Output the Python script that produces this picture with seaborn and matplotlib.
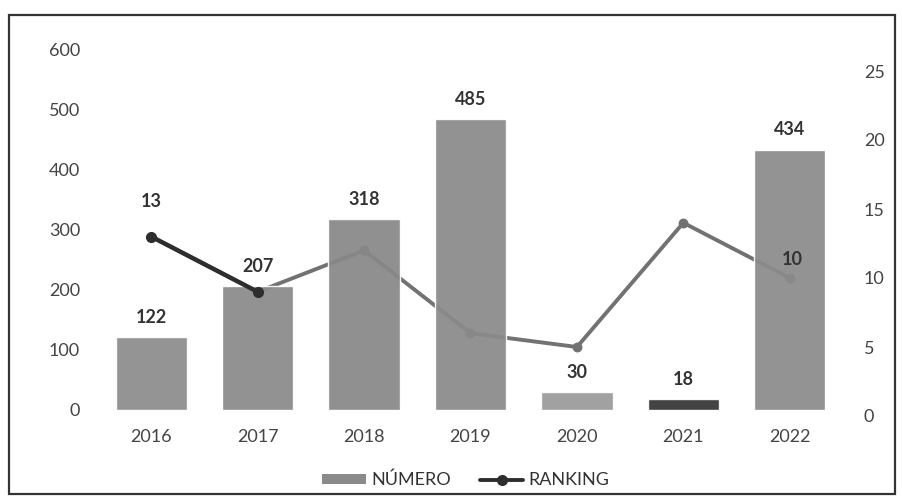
import numpy as np
import matplotlib.pyplot as plt
import seaborn as sns
from matplotlib.patches import Rectangle, Patch
from matplotlib.lines import Line2D

# chart values
years = ["2016", "2017", "2018", "2019", "2020", "2021", "2022"]
numero = [122, 207, 318, 485, 30, 18, 434]
ranking = [13, 9, 12, 6, 5, 14, 10]
ranking_labels_shown = {"2016": "13", "2022": "10"}

bar_colors = ["#8c8c8c", "#8a8a8a", "#888888", "#8a8a8a", "#9a9a9a", "#353535", "#8b8b8b"]
line_color = "#727272"
dark_line = "#2e2e2e"
text_color = "#333333"
tick_color = "#444444"

sns.set_style("white")
plt.rcParams["font.family"] = ["Lato", "DejaVu Sans"]

W, H = 902, 499
fig = plt.figure(figsize=(W / 100, H / 100), dpi=100)

# right axis (ranking) sits behind the bars, as in the scan
ax2 = fig.add_axes([98 / W, (H - 416) / H, 745 / W, 345 / H])
ax = fig.add_axes([98 / W, (H - 410) / H, 745 / W, 360 / H])
ax.set_zorder(2)
ax.patch.set_visible(False)
ax2.set_zorder(1)

sns.barplot(x=years, y=numero, hue=years, palette=bar_colors, legend=False,
            width=0.67, saturation=1, alpha=0.93, ax=ax)
ax.set_ylim(0, 600)
ax.set_xlim(-0.5, 6.5)
ax.set_yticks(range(0, 601, 100))
ax.tick_params(axis="x", labelsize=13, colors=tick_color, length=0, pad=14)
ax.tick_params(axis="y", labelsize=13, colors=tick_color, length=0, pad=13)
for s in ax.spines.values():
    s.set_visible(False)
ax.set_xlabel("")
ax.set_ylabel("")

for i, v in enumerate(numero):
    ax.annotate(str(v), (i, v), xytext=(0, 8), textcoords="offset points",
                ha="center", va="bottom", fontsize=13, fontweight="bold",
                color=text_color)

sns.pointplot(x=years, y=ranking, color=line_color, markers="o",
              markersize=5, linewidth=2.8, ax=ax2)
ax2.set_xlim(-0.5, 6.5)
ax2.set_ylim(0, 25)
ax2.set_yticks(range(0, 26, 5))
ax2.yaxis.tick_right()
ax2.set_xticks([])
ax2.tick_params(axis="y", labelsize=13, colors=tick_color, length=0, pad=15)
for s in ax2.spines.values():
    s.set_visible(False)
ax2.set_xlabel("")
ax2.set_ylabel("")

# the first segment prints darker and on top of the 2017 bar in the scan
ax.plot(np.arange(2), ranking[:2], transform=ax2.transData, color=dark_line,
        linewidth=3.2, marker="o", markersize=7, zorder=5)

for i, y in enumerate(years):
    if y in ranking_labels_shown:
        off = (0, 25) if y == "2016" else (2, 13)
        ax.annotate(ranking_labels_shown[y], (i, ranking[i]),
                    xycoords=ax2.transData, xytext=off,
                    textcoords="offset points", ha="center", va="center",
                    fontsize=13, fontweight="bold", color=text_color,
                    zorder=6)

handles = [Patch(facecolor="#8a8a8a", edgecolor="none"),
           Line2D([0], [0], color=dark_line, linewidth=2.8, marker="o",
                  markersize=7)]
fig.legend(handles, ["NÚMERO", "RANKING"], loc="center", ncol=2,
           bbox_to_anchor=(466 / W, 19 / H), frameon=False, fontsize=13,
           handlelength=2.4, handleheight=0.45, handletextpad=0.3,
           columnspacing=1.6, labelcolor="#333333")

fig.patches.append(Rectangle((9 / W, 5 / H), 886 / W, 479 / H,
                             transform=fig.transFigure, fill=False,
                             edgecolor="#333333", linewidth=1.6))

fig.savefig("out.png", dpi=100)
